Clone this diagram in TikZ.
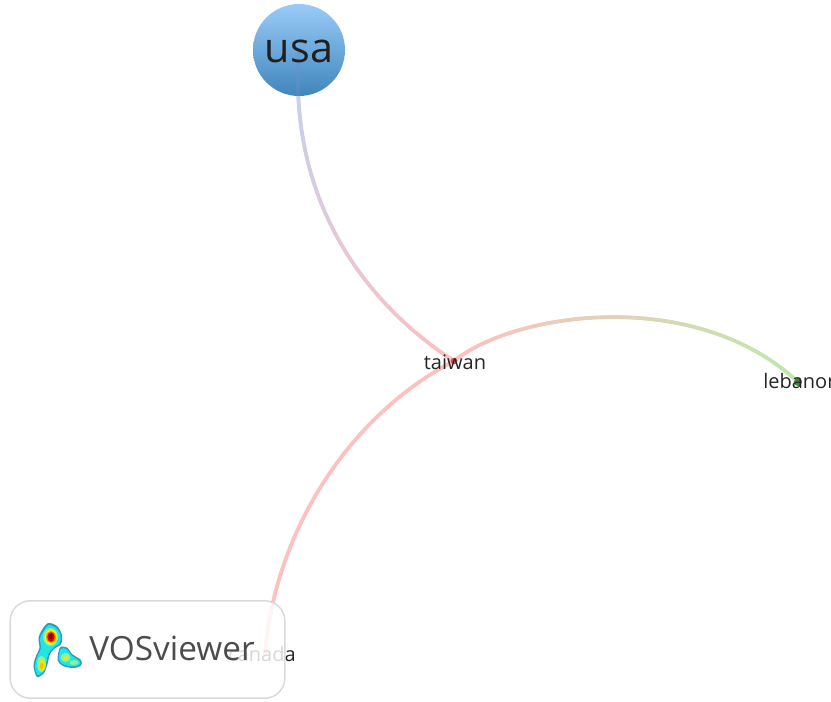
\documentclass[tikz,border=0pt]{standalone}
\usepackage{fontspec}
\setmainfont{Open Sans}
\usetikzlibrary{decorations.markings}
\definecolor{usablue}{HTML}{5F92DA}
\definecolor{taiwanred}{HTML}{FF6161}
\definecolor{lebanongreen}{HTML}{58C82E}
\definecolor{usatop}{HTML}{9ACBF8}
\definecolor{usabottom}{HTML}{3F86BC}
\definecolor{blobedge}{HTML}{2A9CC0}
\definecolor{blobcyan}{HTML}{20E4E6}
\definecolor{blobgreen}{HTML}{8CF29A}
\tikzset{
  edgeline/.style 2 args={postaction={decorate},decoration={markings,
    mark=between positions 0 and 1 step 1pt with {
      \pgfmathsetmacro{\edgepct}{100*(\pgfkeysvalueof{/pgf/decoration/mark info/distance from start}/\pgfdecoratedpathlength)}
      \fill [#2!\edgepct!#1] (0,0) circle (1.5pt);
    }}},
  dot/.style={circle,inner sep=0pt,minimum size=5pt},
  word/.style={inner sep=0pt,text=black!85,font=\fontsize{15}{18}\selectfont}
}
\begin{document}
\begin{tikzpicture}[x=0.75pt,y=-0.75pt]
\useasboundingbox (0,0) rectangle (831,702);
\node [circle,inner sep=0pt,minimum size=69pt,top color=usatop,bottom color=usabottom] (usa) at (299,50) {};
\node [dot] (taiwan) at (454,361) {};
\node [dot] (lebanon) at (798,382) {};
\node [dot] (canada) at (265,654) {};
\begin{scope}[transparency group,opacity=0.4]
\path [edgeline={usablue}{taiwanred}] (usa.center) .. controls (288,195) and (360,300) .. (taiwan.center);
\path [edgeline={taiwanred}{taiwanred}] (canada.center) .. controls (275,530) and (350,415) .. (taiwan.center);
\path [edgeline={taiwanred}{lebanongreen}] (taiwan.center) .. controls (515,312) and (695,286) .. (lebanon.center);
\end{scope}
\fill [red!75!black!70!white] (taiwan) circle (2.5pt);
\fill [green!45!black!80!white] (lebanon) circle (3pt);
\node [inner sep=0pt,text=black!88,font=\fontsize{31}{37}\selectfont] (usatext) at (299,51) {usa};
\node [word] (taiwantext) at (455,362) {taiwan};
\node [word,anchor=west] (lebanontext) at (763,381) {lebanon};
\node [word,anchor=east] (canadatext) at (296,654) {canada};
% logo box
\node [draw=black!15,line width=1.1pt,fill=white,fill opacity=0.82,rounded corners=15pt,inner sep=0pt,minimum width=206pt,minimum height=73pt] (logobox) at (147.5,649.5) {};
\node [inner sep=0pt,text=black!70,font=\fontsize{25}{30}\selectfont] (vosviewer) at (172,648) {VOSviewer};
\fill [blobedge] plot [smooth cycle] coordinates {(48.3,623) (57,626) (62,635) (61,644) (54,649) (50,654) (47.5,664) (44,673) (37,677) (33.5,666) (36,656) (39.5,648) (38.5,638) (42.5,629)};
\fill [blobedge] plot [smooth cycle] coordinates {(60,647.5) (67,647.5) (72,654) (81,660) (81,665.5) (73.3,668) (63,666) (57.5,660)};
\fill [blobcyan] plot [smooth cycle] coordinates {(48.5,625) (56,628) (60.5,635) (59.5,643) (53,648) (48.5,653.5) (46,663.5) (42.8,672) (37.5,675) (35,666) (37.5,656.5) (41,648) (40,638.5) (44,630.5)};
\fill [blobcyan] plot [smooth cycle] coordinates {(60.5,649) (66.5,649) (71,655) (79.5,661) (79.5,664.5) (73,666.5) (63.5,664.5) (59,659.5)};
\fill [blobgreen] (50.5,637) ellipse (7.5 and 9);
\fill [blobgreen] (41.5,664) ellipse (4.5 and 8);
\fill [blobgreen] (65.5,657.5) ellipse (5 and 4.5);
\fill [blobgreen] (74,662.5) ellipse (4.5 and 2.5);
\fill [yellow!90!green] (42,665) ellipse (3 and 6);
\fill [yellow!80!green!80!white] (66,658) ellipse (2.5 and 2.2);
\fill [yellow] (51,637) ellipse (6 and 7.5);
\fill [orange] (51,637) ellipse (4.8 and 6);
\fill [orange!50!yellow] (41.5,666) ellipse (1.8 and 3);
\fill [red!85!black] (51,637) ellipse (3.6 and 4.8);
\fill [red!50!black] (50.5,636.5) ellipse (1.8 and 2.6);
\end{tikzpicture}
\end{document}
